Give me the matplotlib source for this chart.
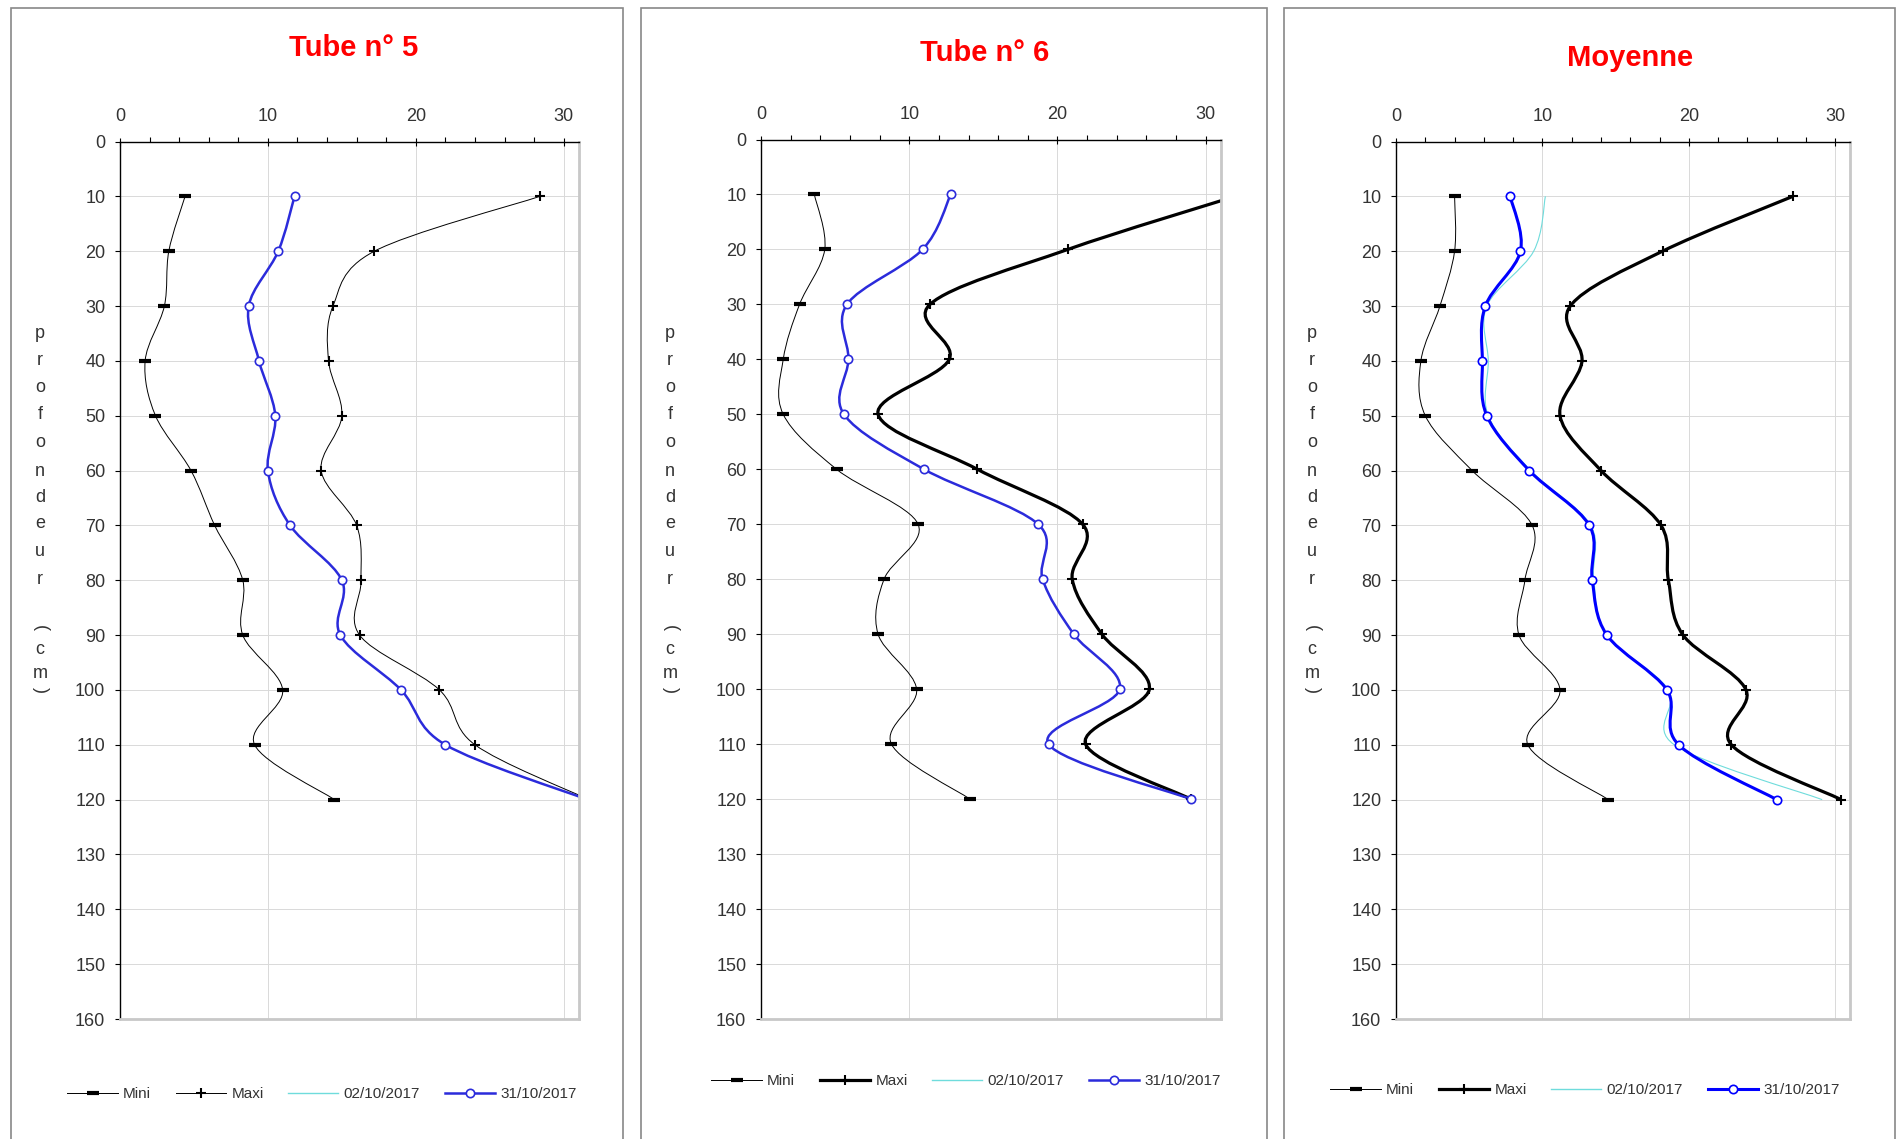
import matplotlib
matplotlib.use("Agg")
import matplotlib.pyplot as plt
from matplotlib.path import Path
from matplotlib.patches import PathPatch, Rectangle
from matplotlib.lines import Line2D
from matplotlib.ticker import MultipleLocator
import numpy as np

plt.rcParams['font.family'] = ['Liberation Sans', 'DejaVu Sans']

# Data
depths = [10, 20, 30, 40, 50, 60, 70, 80, 90, 100, 110, 120]
titles = ["Tube n° 5", "Tube n° 6", "Moyenne"]
legend_labels = ["Mini", "Maxi", "02/10/2017", "31/10/2017"]
ylabel_chars = list("profondeur")

t5_mini = [4.4, 3.3, 3.0, 1.7, 2.4, 4.8, 6.4, 8.3, 8.3, 11.0, 9.1, 14.5]
t5_maxi = [28.4, 17.2, 14.4, 14.1, 15.0, 13.6, 16.0, 16.3, 16.2, 21.6, 24.0, 31.7]
t5_oct02 = []
t5_oct31 = [11.8, 10.7, 8.7, 9.4, 10.5, 10.0, 11.5, 15.0, 14.9, 19.0, 22.0, 31.6]

t6_mini = [3.6, 4.3, 2.6, 1.5, 1.5, 5.1, 10.6, 8.3, 7.9, 10.5, 8.8, 14.1]
t6_maxi = [32.4, 20.7, 11.4, 12.7, 7.9, 14.6, 21.7, 21.0, 23.0, 26.2, 21.9, 29.0]
t6_oct02 = []
t6_oct31 = [12.8, 10.9, 5.8, 5.9, 5.6, 11.0, 18.7, 19.0, 21.1, 24.2, 19.4, 29.0]

moy_mini = [4.0, 4.0, 3.0, 1.7, 2.0, 5.2, 9.3, 8.8, 8.4, 11.2, 9.0, 14.5]
moy_maxi = [27.1, 18.2, 11.9, 12.7, 11.2, 14.0, 18.1, 18.6, 19.6, 23.9, 22.9, 30.4]
moy_oct02 = [10.2, 9.4, 6.2, 6.3, 6.3, 9.2, 13.3, 13.5, 14.4, 18.6, 19.0, 29.1]
moy_oct31 = [7.8, 8.5, 6.1, 5.9, 6.2, 9.1, 13.2, 13.4, 14.4, 18.5, 19.3, 26.0]

W, H = 1897, 1139
fig = plt.figure(figsize=(W / 100, H / 100), dpi=100)


def px(x, y):
    return x / W, 1 - y / H


def smooth_path(xs, ys):
    """Excel-like smoothed line: cubic bezier through the points"""
    pts = np.column_stack([xs, ys]).astype(float)
    n = len(pts)
    verts, codes = [pts[0]], [Path.MOVETO]
    for i in range(n - 1):
        p0 = pts[max(i - 1, 0)]
        p1, p2 = pts[i], pts[i + 1]
        p3 = pts[min(i + 2, n - 1)]
        verts += [p1 + (p2 - p0) / 6, p2 - (p3 - p1) / 6, p2]
        codes += [Path.CURVE4] * 3
    return Path(verts, codes)


panels = [
    dict(series=(t5_mini, t5_maxi, t5_oct02, t5_oct31), box=(120, 578.5, 141.5, 1019),
         frame=(11, 623), title=(354, 48), ylab_x=40, leg=(322, 1094),
         maxi_lw=0.7, blue="#2b2bdb", blue_lw=1.8),
    dict(series=(t6_mini, t6_maxi, t6_oct02, t6_oct31), box=(761, 1220.5, 139.5, 1019),
         frame=(641, 1267), title=(985, 53), ylab_x=670, leg=(966, 1081),
         maxi_lw=2.3, blue="#2b2bdb", blue_lw=1.8),
    dict(series=(moy_mini, moy_maxi, moy_oct02, moy_oct31), box=(1396, 1850, 141.5, 1019),
         frame=(1283.5, 1895), title=(1630, 58), ylab_x=1312, leg=(1585, 1090),
         maxi_lw=2.3, blue="#0000ff", blue_lw=2.2),
]

CYAN = "#6fdcdc"
TXT = "#333333"

for p, title in zip(panels, titles):
    l, r, t, b = p["box"]
    ax = fig.add_axes([l / W, 1 - b / H, (r - l) / W, (b - t) / H])
    ax.set_xlim(0, 31)
    ax.set_ylim(160, 0)
    ax.xaxis.tick_top()
    ax.xaxis.set_major_locator(MultipleLocator(10))
    ax.xaxis.set_minor_locator(MultipleLocator(2))
    ax.yaxis.set_major_locator(MultipleLocator(10))
    ax.grid(True, which='major', color='#d9d9d9', lw=0.7)
    ax.set_axisbelow(True)
    ax.tick_params(axis='x', which='major', direction='inout', length=6, width=0.8,
                   pad=9, labelsize=13, labelcolor=TXT)
    ax.tick_params(axis='x', which='minor', direction='out', length=3.5, width=0.8)
    ax.tick_params(axis='y', direction='out', length=3.6, width=0.8, pad=7,
                   labelsize=13, labelcolor=TXT)
    for s in ('top', 'left'):
        ax.spines[s].set_color('black')
        ax.spines[s].set_linewidth(1.0)
    for s in ('right', 'bottom'):
        ax.spines[s].set_color('#c8c8c8')
        ax.spines[s].set_linewidth(2.0)

    mini, maxi, oct02, oct31 = p["series"]
    # smoothed lines
    ax.add_patch(PathPatch(smooth_path(mini, depths), fill=False, ec='black', lw=0.7))
    ax.add_patch(PathPatch(smooth_path(maxi, depths), fill=False, ec='black', lw=p["maxi_lw"]))
    if oct02:
        ax.add_patch(PathPatch(smooth_path(oct02, depths), fill=False, ec=CYAN, lw=0.8))
    ax.add_patch(PathPatch(smooth_path(oct31, depths), fill=False, ec=p["blue"], lw=p["blue_lw"]))
    # markers
    ax.plot(mini, depths, ls='none', marker='_', ms=8.5, mew=3, color='black', clip_on=True)
    ax.plot(maxi, depths, ls='none', marker='+', ms=7.5, mew=1.5, color='black')
    ax.plot(oct31, depths, ls='none', marker='o', ms=6, mew=1.2, mfc='white', mec=p["blue"])

    # title
    fig.text(*px(*p["title"]), title, color='red', fontsize=21, fontweight='bold',
             ha='center', va='center')

    # stacked y label
    x0 = p["ylab_x"]
    ys = [333, 360, 387, 415, 443, 471, 497, 524, 552, 580]
    for ch, yy in zip(ylabel_chars, ys):
        fig.text(*px(x0, yy), ch, fontsize=13, color=TXT, ha='center', va='center')
    fig.text(*px(x0, 628), "(", fontsize=13, color=TXT, ha='center', va='center', rotation=-90)
    fig.text(*px(x0, 650), "c", fontsize=13, color=TXT, ha='center', va='center')
    fig.text(*px(x0, 674), "m", fontsize=13, color=TXT, ha='center', va='center')
    fig.text(*px(x0, 690), ")", fontsize=13, color=TXT, ha='center', va='center', rotation=-90)

    # legend
    handles = [
        Line2D([], [], color='black', lw=0.7, marker='_', ms=8.5, mew=3),
        Line2D([], [], color='black', lw=p["maxi_lw"], marker='+', ms=7.5, mew=1.5),
        Line2D([], [], color=CYAN, lw=1.0),
        Line2D([], [], color=p["blue"], lw=p["blue_lw"], marker='o', ms=6, mew=1.2,
               mfc='white', mec=p["blue"]),
    ]
    fig.legend(handles, legend_labels, loc='center', bbox_to_anchor=px(*p["leg"]), ncol=4,
               frameon=False, fontsize=11, handlelength=3.3, handletextpad=0.35,
               columnspacing=1.6, numpoints=1, labelcolor=TXT)

    # chart frame (runs off the bottom of the picture)
    fl, fr = p["frame"]
    fig.patches.append(Rectangle(px(fl, 1160), (fr - fl) / W, (1160 - 7.5) / H,
                                 transform=fig.transFigure, fill=False,
                                 ec='#888888', lw=1.2))

fig.savefig('out.png', dpi=100)
